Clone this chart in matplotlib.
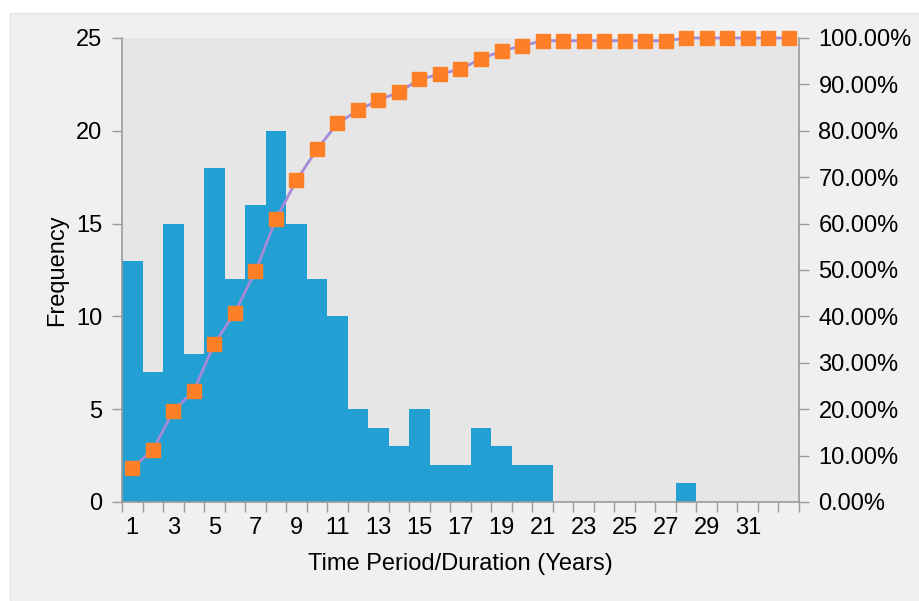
import numpy as np
import matplotlib
matplotlib.use("Agg")
import matplotlib.pyplot as plt
from matplotlib.patches import Rectangle
from matplotlib.ticker import FuncFormatter

plt.rcParams['font.family'] = ['Liberation Sans', 'DejaVu Sans']

# duration in years (bins) and counts
years = list(range(1, 34))
freq = [13, 7, 15, 8, 18, 12, 16, 20, 15, 12, 10, 5, 4, 3, 5, 2, 2, 4, 3, 2, 2,
        0, 0, 0, 0, 0, 0, 1, 0, 0, 0, 0, 0]
# cumulative percentage markers
cum_pct = [7.3, 11.2, 19.6, 24.0, 34.1, 40.8, 49.7, 60.9, 69.3, 76.0, 81.6, 84.4,
           86.6, 88.3, 91.1, 92.2, 93.3, 95.5, 97.2, 98.3, 99.4, 99.4, 99.4, 99.4,
           99.4, 99.4, 99.4, 100, 100, 100, 100, 100, 100]
xlabels = [str(y) if y % 2 == 1 and y < 33 else "" for y in years]

fig = plt.figure(figsize=(9.19, 6.01), dpi=100)
fig.patch.set_facecolor("white")
# light grey frame behind the chart
fig.patches.append(Rectangle((10 / 919, 0), 1, 1 - 13 / 601, transform=fig.transFigure,
                             facecolor="#f0f0f0", edgecolor="#e2e2e2", lw=0.8, zorder=-5))

ax = fig.add_axes([122 / 919, 99 / 601, 677 / 919, 464 / 601])
ax.set_facecolor("#e6e6e6")
ax.bar(years, freq, width=1.0, color="#22a0d4", zorder=2)
ax.set_xlim(0.5, 33.5)
ax.set_ylim(0, 25)
ax.set_yticks([0, 5, 10, 15, 20, 25])
ax.set_xticks(years)
ax.set_xticklabels(xlabels)
ax.set_xticks(np.arange(0.5, 34, 1), minor=True)
ax.tick_params(axis="x", which="major", length=0, pad=11, labelsize=17)
ax.tick_params(axis="x", which="minor", length=7, color="#9a9a9a", width=1)
ax.tick_params(axis="y", length=7, color="#9a9a9a", width=1, pad=7, labelsize=17)
ax.set_ylabel("Frequency", fontsize=17, labelpad=6)
ax.set_xlabel("Time Period/Duration (Years)", fontsize=17, labelpad=10)
for s in ["top", "right"]:
    ax.spines[s].set_visible(False)
for s in ["left", "bottom"]:
    ax.spines[s].set_color("#9a9a9a")
    ax.spines[s].set_linewidth(1.2)

ax2 = ax.twinx()
ax2.plot(years, np.array(cum_pct) / 100, color="#a68ad8", lw=2, zorder=3,
         marker="s", markersize=9.5, markerfacecolor="#ff7f27", markeredgecolor="#ff7f27",
         clip_on=False)
ax2.set_ylim(0, 1)
ax2.set_yticks(np.arange(0, 1.01, 0.1))
ax2.yaxis.set_major_formatter(FuncFormatter(lambda v, p: "%.2f%%" % (v * 100)))
ax2.tick_params(axis="y", length=7, color="#9a9a9a", width=1, pad=7, labelsize=17)
for s in ["top", "left", "bottom"]:
    ax2.spines[s].set_visible(False)
ax2.spines["right"].set_color("#9a9a9a")
ax2.spines["right"].set_linewidth(1.2)

plt.savefig("out.png", dpi=100)
